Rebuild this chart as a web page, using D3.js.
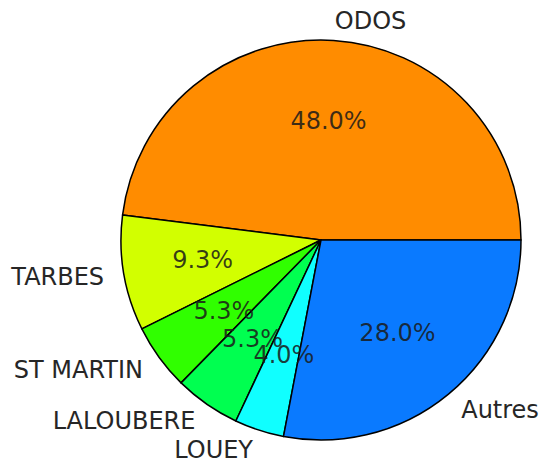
<!DOCTYPE html>
<html lang="en">
  <head>
    <meta charset="utf-8">
    <title>Pie</title>
    <script src="https://d3js.org/d3.v7.min.js"></script>
    <style type="text/css">
      body { margin: 0; background-color: white; }
      .lbl { font-family: "DejaVu Sans", sans-serif; font-size: 24px; fill: #262626; }
      .pct { font-family: "DejaVu Sans", sans-serif; font-size: 24px; fill: #1a1a1a; fill-opacity: 0.85; }
    </style>
  </head>
  <body>
    <svg></svg>
    <script type="text/javascript">

    // counts per commune (percentages = count / 75)
    const labels = ["ODOS", "TARBES", "ST MARTIN", "LALOUBERE", "LOUEY", "Autres"];
    const counts = [36, 7, 4, 4, 3, 21];
    const colors = ["#ff8c00", "#d2ff00", "#30ff00", "#00ff50", "#10ffff", "#0a7aff"];

    const width = 544, height = 462;
    const cx = 321, cy = 240, radius = 200;

    const svg = d3.select("svg")
      .attr("width", width)
      .attr("height", height);

    const g = svg.append("g")
      .attr("transform", "translate(" + [cx, cy] + ")");

    // matplotlib style: start at 3 o'clock, go counterclockwise
    const pie = d3.pie()
      .sort(null)
      .value(d => d)
      .startAngle(Math.PI / 2)
      .endAngle(Math.PI / 2 - 2 * Math.PI);

    const arcs = pie(counts);
    const total = d3.sum(counts);

    const arc = d3.arc().innerRadius(0).outerRadius(radius);

    g.selectAll("path.slice")
      .data(arcs)
      .enter()
      .append("path")
      .attr("class", "slice")
      .attr("d", arc)
      .attr("fill", (d, i) => colors[i])
      .attr("stroke", "black")
      .attr("stroke-width", 1.5)
      .attr("stroke-linejoin", "round");

    const mid = d => (d.startAngle + d.endAngle) / 2;

    g.selectAll("text.lbl")
      .data(arcs)
      .enter()
      .append("text")
      .attr("class", "lbl")
      .attr("x", d => 1.1 * radius * Math.sin(mid(d)))
      .attr("y", d => -1.1 * radius * Math.cos(mid(d)))
      .attr("dy", "0.35em")
      .attr("text-anchor", d => Math.sin(mid(d)) > 0 ? "start" : "end")
      .text((d, i) => labels[i]);

    // percentages overlap in the small slices, as in the original
    g.selectAll("text.pct")
      .data(arcs)
      .enter()
      .append("text")
      .attr("class", "pct")
      .attr("x", d => 0.6 * radius * Math.sin(mid(d)))
      .attr("y", d => -0.6 * radius * Math.cos(mid(d)))
      .attr("dy", "0.35em")
      .attr("text-anchor", "middle")
      .text(d => (d.value / total * 100).toFixed(1) + "%");

    </script>
  </body>
</html>
